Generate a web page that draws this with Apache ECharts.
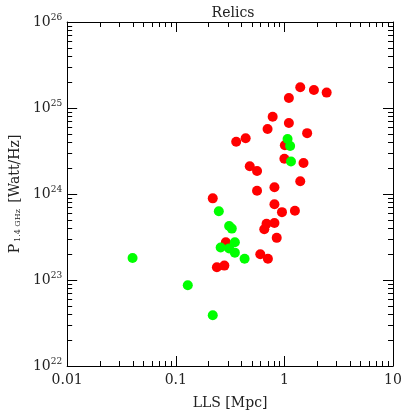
<!DOCTYPE html>
<html>
<head>
<meta charset="utf-8">
<script src="https://cdn.jsdelivr.net/npm/echarts@6/dist/echarts.min.js"></script>
<style>
html, body { margin: 0; padding: 0; background: #fff; }
#chart { width: 415px; height: 415px; }
</style>
</head>
<body>
<div id="chart"></div>
<script>
// relics: largest linear size (Mpc) vs radio power at 1.4 GHz (W/Hz)
const redLLS = [1.40, 1.87, 2.45, 1.10, 0.78, 1.10, 0.70, 1.62, 0.36, 0.44,
                1.01, 1.00, 1.50, 0.48, 0.56, 1.40, 0.56, 0.81, 0.219, 0.81,
                0.95, 1.25, 0.685, 0.653, 0.81, 0.85, 0.289, 0.60, 0.705, 0.239, 0.28];
const redPower = [1.74e25, 1.62e25, 1.51e25, 1.31e25, 7.9e24, 6.7e24, 5.7e24, 5.1e24, 4.06e24, 4.44e24,
                  3.69e24, 2.57e24, 2.29e24, 2.10e24, 1.85e24, 1.41e24, 1.09e24, 1.20e24, 8.9e23, 7.6e23,
                  6.15e23, 6.4e23, 4.5e23, 3.9e23, 4.6e23, 3.09e23, 2.75e23, 1.99e23, 1.77e23, 1.41e23, 1.47e23];
const greenLLS = [1.07, 1.13, 1.15, 0.249, 0.31, 0.328, 0.35, 0.259, 0.31, 0.35, 0.43, 0.219, 0.04, 0.129];
const greenPower = [4.36e24, 3.62e24, 2.39e24, 6.3e23, 4.24e23, 3.96e23, 2.75e23, 2.39e23, 2.33e23, 2.08e23,
                    1.77e23, 3.9e22, 1.80e23, 8.7e22];

const xTicks = [0.01, 0.1, 1, 10];
const yTicks = [1e22, 1e23, 1e24, 1e25, 1e26];
const minorSteps = [2, 3, 4, 5, 6, 7, 8, 9];

const font = 'DejaVu Serif';
const ink = '#222';
const chart = echarts.init(document.getElementById('chart'));

const pairs = (xs, ys) => xs.map((x, i) => [x, ys[i]]);
const xLabel = v => {
    const e = Math.round(Math.log10(v));
    return e < 0 ? v.toFixed(-e) : String(Math.round(v));
};
const yLabel = v => '10{sup|' + Math.round(Math.log10(v)) + '}';

function xAxis(position, labels) {
    return {
        type: 'log', logBase: 10, position: position,
        min: xTicks[0], max: xTicks[xTicks.length - 1], interval: 1,
        name: labels ? 'LLS [Mpc]' : '', nameLocation: 'middle', nameGap: 30,
        nameTextStyle: { fontFamily: font, fontSize: 14, color: ink },
        axisLine: { lineStyle: { color: '#000', width: 1 } },
        axisTick: { show: true, inside: true, length: 10, lineStyle: { color: '#000' } },
        axisLabel: { show: labels, fontFamily: font, fontSize: 14, color: ink, margin: 7, formatter: xLabel },
        splitLine: { show: false }
    };
}

function yAxis(position, labels) {
    return {
        type: 'log', logBase: 10, position: position,
        min: yTicks[0], max: yTicks[yTicks.length - 1], interval: 1,
        name: labels ? 'P{sub|1.4 GHz} [Watt/Hz]' : '', nameLocation: 'middle', nameGap: 44, nameRotate: 90,
        nameTextStyle: {
            fontFamily: font, fontSize: 14, color: ink,
            rich: { sub: { fontFamily: font, fontSize: 8, color: ink, padding: [6, 2, 0, 2] } }
        },
        axisLine: { lineStyle: { color: '#000', width: 1 } },
        axisTick: { show: true, inside: true, length: 10, lineStyle: { color: '#000' } },
        axisLabel: {
            show: labels, fontFamily: font, fontSize: 14, color: ink, margin: 5, formatter: yLabel,
            rich: { sup: { fontFamily: font, fontSize: 9, color: ink, padding: [0, 0, 8, 0] } }
        },
        splitLine: { show: false }
    };
}

chart.setOption({
    backgroundColor: '#fff',
    animation: false,
    title: {
        text: 'Relics', left: 228, top: 1, textAlign: 'center',
        textStyle: { fontFamily: font, fontSize: 14, fontWeight: 'normal', color: ink }
    },
    grid: { left: 64, right: 22, top: 22, bottom: 45 },
    xAxis: [xAxis('bottom', true), xAxis('top', false)],
    yAxis: [yAxis('left', true), yAxis('right', false)],
    series: [
        { type: 'scatter', data: pairs(redLLS, redPower), symbolSize: 10,
          itemStyle: { color: '#ff0000', opacity: 1 } },
        { type: 'scatter', data: pairs(greenLLS, greenPower), symbolSize: 10,
          itemStyle: { color: '#00ff00', opacity: 1 } }
    ]
});

// minor ticks (2..9 in every decade) on all four sides, placed through the axes
const x0 = chart.convertToPixel({ xAxisIndex: 0 }, xTicks[0]);
const x1 = chart.convertToPixel({ xAxisIndex: 0 }, xTicks[xTicks.length - 1]);
const y0 = chart.convertToPixel({ yAxisIndex: 0 }, yTicks[0]);
const y1 = chart.convertToPixel({ yAxisIndex: 0 }, yTicks[yTicks.length - 1]);
const minor = [];
const tick = (ax, ay, bx, by) => minor.push({
    type: 'line', silent: true, z: 10,
    shape: { x1: ax, y1: ay, x2: bx, y2: by },
    style: { stroke: '#000', lineWidth: 1 }
});
xTicks.slice(0, -1).forEach(d => minorSteps.forEach(m => {
    const px = Math.round(chart.convertToPixel({ xAxisIndex: 0 }, d * m)) + 0.5;
    tick(px, y0, px, y0 - 5);
    tick(px, y1, px, y1 + 5);
}));
yTicks.slice(0, -1).forEach(d => minorSteps.forEach(m => {
    const py = Math.round(chart.convertToPixel({ yAxisIndex: 0 }, d * m)) + 0.5;
    tick(x0, py, x0 + 5, py);
    tick(x1, py, x1 - 5, py);
}));
chart.setOption({ graphic: minor });
</script>
</body>
</html>
